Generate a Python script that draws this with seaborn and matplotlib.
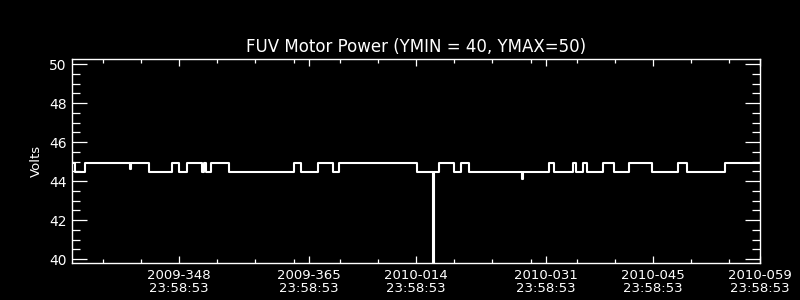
import matplotlib
matplotlib.use("Agg")
import matplotlib.pyplot as plt
import seaborn as sns
import pandas as pd
from matplotlib.ticker import FixedLocator

# Time in days since 2009-334 23:58:53, value in Volts (step series)
days = [0.0, 0.39, 1.70, 7.55, 7.70, 10.11, 13.12, 14.04, 15.08, 17.05, 17.27, 17.49,
        18.14, 20.54, 29.08, 29.92, 32.14, 34.10, 34.97, 45.09, 47.25, 47.35, 48.05,
        49.97, 50.89, 51.97, 58.92, 59.02, 62.44, 63.02, 65.58, 65.93, 66.89, 67.41,
        69.50, 70.94, 72.91, 75.92, 79.24, 80.49, 85.46, 90.0]
volts = [44.92, 44.45, 44.92, 44.60, 44.92, 44.45, 44.92, 44.45, 44.92, 44.45, 44.92, 44.45,
         44.92, 44.45, 44.92, 44.45, 44.92, 44.45, 44.92, 44.45, 39.0, 44.45, 44.92,
         44.45, 44.92, 44.45, 44.12, 44.45, 44.92, 44.45, 44.92, 44.45, 44.92, 44.45,
         44.92, 44.45, 44.92, 44.45, 44.92, 44.45, 44.92, 44.92]

major_days = [14, 31, 45, 62, 76, 90]
major_labels = ["2009-348\n23:58:53", "2009-365\n23:58:53", "2010-014\n23:58:53",
                "2010-031\n23:58:53", "2010-045\n23:58:53", "2010-059\n23:58:53"]
minor_days = [4, 9, 19, 24, 29, 35, 40, 50, 55, 60, 66, 71, 81, 86]
y_major = [40, 42, 44, 46, 48, 50]

sns.set_style("dark")
plt.rcParams['font.family'] = ['DejaVu Sans']
fig = plt.figure(figsize=(8, 3), dpi=100, facecolor="black")
ax = fig.add_axes([0.09, 0.1233, 0.86, 0.68])
ax.set_facecolor("black")

df = pd.DataFrame({"day": days, "volts": volts})
sns.lineplot(data=df, x="day", y="volts", ax=ax, color="white", linewidth=1.5,
             drawstyle="steps-post", estimator=None, sort=False)

ax.set_xlim(0, 90)
ax.set_ylim(39.8, 50.27)
ax.xaxis.set_major_locator(FixedLocator(major_days))
ax.xaxis.set_minor_locator(FixedLocator(minor_days))
ax.set_xticklabels(major_labels)
ax.yaxis.set_major_locator(FixedLocator(y_major))
ax.yaxis.set_minor_locator(FixedLocator([v + d for v in range(40, 50, 2) for d in (0.5, 1.0, 1.5)]))

for s in ax.spines.values():
    s.set_color("white")
    s.set_linewidth(1.0)
ax.grid(False)
ax.tick_params(axis="both", which="both", direction="in", colors="white",
               top=True, right=True, bottom=True, left=True, width=0.9)
ax.tick_params(axis="y", which="major", length=10.5, labelsize=10, pad=4)
ax.tick_params(axis="y", which="minor", length=5.8)
ax.tick_params(axis="x", which="major", length=5, pad=4, labelsize=9.5)
ax.tick_params(axis="x", which="minor", length=3)
for lab in ax.get_xticklabels():
    lab.set_linespacing(1.0)

ax.set_xlabel("")
ax.set_ylabel("Volts", color="white", fontsize=9.5, labelpad=4)
ax.set_title("FUV Motor Power (YMIN = 40, YMAX=50)", color="white", fontsize=12, pad=5)

fig.savefig("out.png", dpi=100, facecolor="black")
